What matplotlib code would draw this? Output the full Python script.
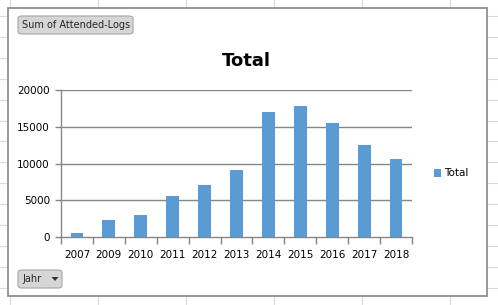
import numpy as np
import matplotlib
matplotlib.use("Agg")
import matplotlib.pyplot as plt
from matplotlib.patches import Rectangle, FancyBboxPatch, Polygon
from matplotlib.lines import Line2D

# donnees
jahre = ["2007", "2009", "2010", "2011", "2012", "2013",
         "2014", "2015", "2016", "2017", "2018"]
total = [550, 2300, 3000, 5600, 7100, 9100, 17050, 17850, 15500, 12500, 10600]
yticks = [0, 5000, 10000, 15000, 20000]

W, H = 498, 305
BLEU = "#5B9BD5"
GRIS = "#868686"

plt.rcParams["font.family"] = ["DejaVu Sans"]

fig = plt.figure(figsize=(W / 100, H / 100), dpi=100)
fig.patch.set_facecolor("white")


def px(x, y):
    """ coordonnees pixel (origine en haut a gauche) -> fraction figure """
    return x / W, 1 - y / H


# grille du tableur en fond
for gx in np.arange(10, W, 88):
    fig.add_artist(Line2D([gx / W, gx / W], [0, 1], color="#D9D9D9", lw=0.8,
                          zorder=0))
for gy in np.arange(16, H, 20.9):
    fig.add_artist(Line2D([0, 1], [1 - gy / H, 1 - gy / H], color="#D9D9D9",
                          lw=0.8, zorder=0))

# cadre du graphique
x0, y0 = px(7.5, 296)
x1, y1 = px(487, 8)
fig.add_artist(Rectangle((x0, y0), x1 - x0, y1 - y0, facecolor="white",
                         edgecolor=GRIS, lw=1.2, zorder=1))

# zone de trace
l, b = px(61, 237)
r, t = px(412, 90)
ax = fig.add_axes([l, b, r - l, t - b], zorder=2)
ax.set_facecolor("none")

pos = np.arange(len(jahre))
ax.bar(pos, total, width=0.4, color=BLEU, zorder=3)
ax.set_xlim(-0.5, len(jahre) - 0.5)
ax.set_ylim(0, 20000)

ax.set_yticks(yticks)
ax.set_yticklabels([str(v) for v in yticks], fontsize=7.5)
ax.set_xticks(pos)
ax.set_xticklabels(jahre, fontsize=7.5)
ax.set_xticks(np.arange(-0.5, len(jahre)), minor=True)
ax.tick_params(axis="x", which="major", length=0, pad=9)
ax.tick_params(axis="x", which="minor", length=5, color=GRIS, width=1)
ax.tick_params(axis="y", length=4, color=GRIS, width=1, pad=4)

for v in yticks[1:]:
    ax.axhline(v, color=GRIS, lw=1, zorder=1)
for s in ["top", "right"]:
    ax.spines[s].set_visible(False)
ax.spines["left"].set_color(GRIS)
ax.spines["bottom"].set_color(GRIS)
ax.spines["left"].set_linewidth(1)
ax.spines["bottom"].set_linewidth(1)

# titre
fig.text(*px(246, 61), "Total", fontsize=13, fontweight="bold",
         ha="center", va="center", zorder=4)

# legende
lx, ly = px(434, 177)
fig.add_artist(Rectangle((lx, ly), 7 / W, 8 / H, facecolor=BLEU, lw=0, zorder=4))
fig.text(*px(444, 173.5), "Total", fontsize=7.5, ha="left", va="center", zorder=4)


# boutons du tableau croise
def bouton(xa, ya, xb, yb, texte):
    ba, bb = px(xa, yb)
    fig.add_artist(FancyBboxPatch((ba, bb), (xb - xa) / W, (yb - ya) / H,
                                  boxstyle="round,pad=0,rounding_size=0.008",
                                  facecolor="#D6D6D6", edgecolor="#A6A6A6",
                                  lw=0.8, zorder=4))
    fig.text(*px(xa + 4, (ya + yb) / 2), texte, fontsize=7, color="#262626",
             ha="left", va="center", zorder=5)


bouton(18, 16, 133, 34, "Sum of Attended-Logs")
bouton(18, 270, 62, 288, "Jahr")
fig.add_artist(Polygon([px(51.5, 277), px(58.5, 277), px(55, 281)], closed=True,
                       facecolor="#333333", lw=0, zorder=5))

fig.savefig("out.png", dpi=100)
